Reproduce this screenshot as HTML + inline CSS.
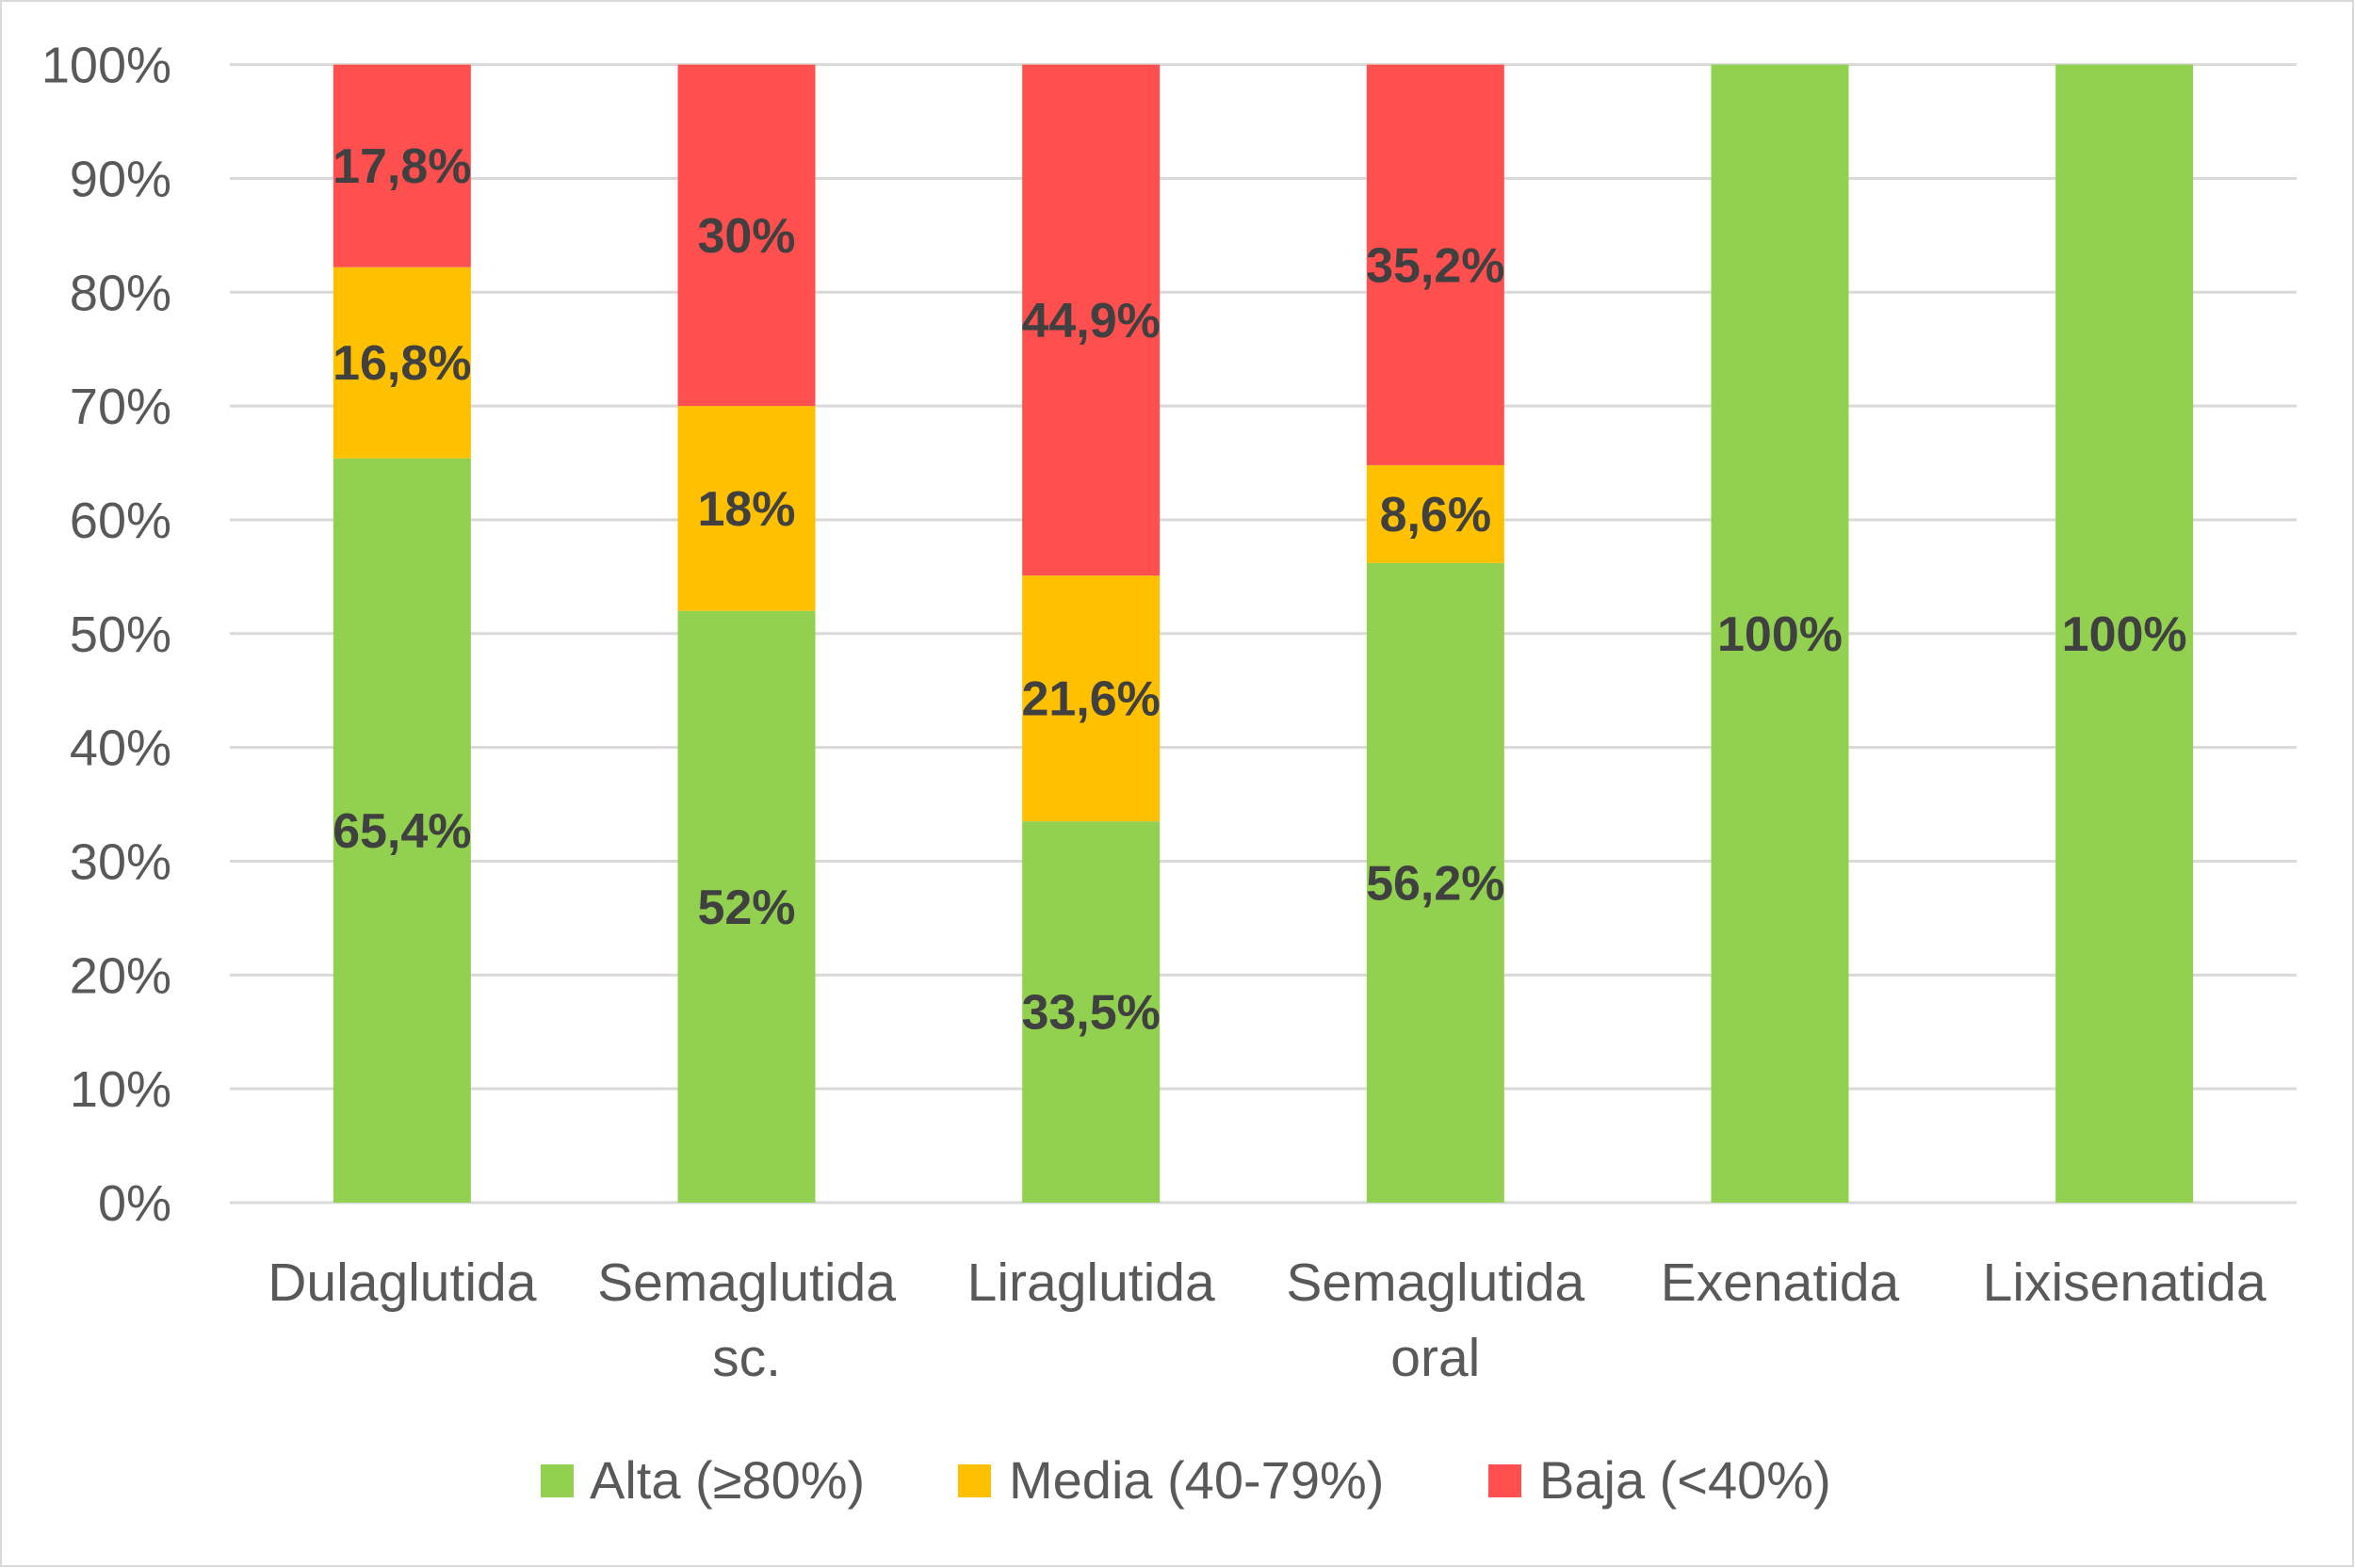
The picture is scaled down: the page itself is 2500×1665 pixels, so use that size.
<!DOCTYPE html>
<html><head><meta charset="utf-8"><style>
body{margin:0;background:#fff}
svg{display:block;font-family:"Liberation Sans",sans-serif}
</style></head><body>
<svg id="chart" width="2500" height="1665" viewBox="0 0 2500 1665">
<rect x="1" y="1" width="2497" height="1662" fill="#fff" stroke="#d9d9d9" stroke-width="2"/>
<g id="grid"></g><g id="bars"></g><g id="labels"></g>
<g font-size="56" fill="#595959">
<rect x="574" y="1555" width="35" height="35" fill="#92D050"/>
<text x="626" y="1591">Alta (≥80%)</text>
<rect x="1017" y="1555" width="35" height="35" fill="#FFC000"/>
<text x="1071" y="1591">Media (40-79%)</text>
<rect x="1580" y="1555" width="35" height="35" fill="#FF4F4F"/>
<text x="1634" y="1591">Baja (&lt;40%)</text>
</g>
</svg>
<script>
const categories=[["Dulaglutida"],["Semaglutida","sc."],["Liraglutida"],["Semaglutida","oral"],["Exenatida"],["Lixisenatida"]];
const alta=[65.4,52,33.5,56.2,100,100];
const media=[16.8,18,21.6,8.6,0,0];
const baja=[17.8,30,44.9,35.2,0,0];
const altaLabels=["65,4%","52%","33,5%","56,2%","100%","100%"];
const mediaLabels=["16,8%","18%","21,6%","8,6%","",""];
const bajaLabels=["17,8%","30%","44,9%","35,2%","",""];
const ticks=[0,10,20,30,40,50,60,70,80,90,100];
const NS="http://www.w3.org/2000/svg";
const x0=244,x1=2438,yTop=68.6,yBot=1277;
const y=v=>yBot-(yBot-yTop)*v/100;
const step=(x1-x0)/categories.length;
const cx=i=>x0+step*(i+0.5);
const bw=146;
function mk(t,a,p){const e=document.createElementNS(NS,t);for(const k in a)e.setAttribute(k,a[k]);p.appendChild(e);return e;}
const grid=document.getElementById('grid'),bars=document.getElementById('bars'),labels=document.getElementById('labels');
ticks.forEach(t=>{
 const l=mk('line',{x1:x0,x2:x1,y1:y(t),y2:y(t),stroke:'#d9d9d9','stroke-width':3},grid);
 
 
 const tx=mk('text',{x:182,y:y(t)+19,'text-anchor':'end','font-size':54,fill:'#595959'},grid);
 tx.textContent=t+'%';
 
 
});
const series=[[alta,'#92D050',altaLabels,'alta'],[media,'#FFC000',mediaLabels,'media'],[baja,'#FF4F4F',bajaLabels,'baja']];
categories.forEach((c,i)=>{
 let base=0;
 series.forEach(([vals,col,lab,nm])=>{
  const v=vals[i];
  if(v>0){
   const r=mk('rect',{x:cx(i)-bw/2,y:y(base+v),width:bw,height:y(base)-y(base+v),fill:col},bars);
   
   
   if(lab[i]){
    const t=mk('text',{x:cx(i),y:y(base+v/2)+18,'text-anchor':'middle','font-size':52,'font-weight':'bold',fill:'#404040'},labels);
    t.textContent=lab[i];
    
    
   }
  }
  base+=v;
 });
 c.forEach((line,j)=>{
  const t=mk('text',{x:cx(i),y:1381+j*80,'text-anchor':'middle','font-size':57,fill:'#595959'},labels);
  t.textContent=line;
  
  
 });
});
</script>
</body></html>
